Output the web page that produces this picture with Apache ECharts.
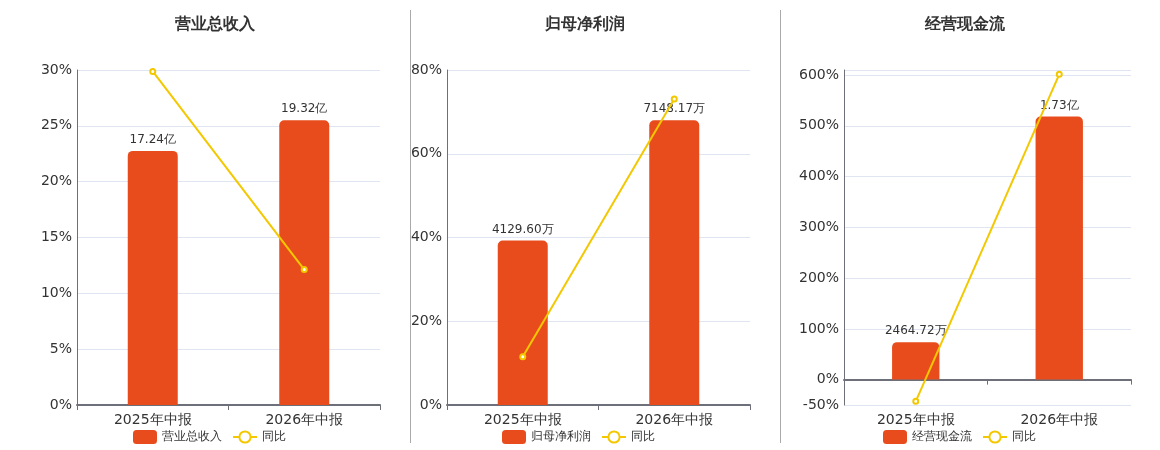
<!DOCTYPE html>
<html>
<head>
<meta charset="utf-8">
<script src="https://cdn.jsdelivr.net/npm/echarts@6/dist/echarts.min.js"></script>
<style>html,body{margin:0;padding:0;background:#fff}#c{width:1160px;height:450px}</style>
</head>
<body>
<div id="c"></div>
<script>
var categories = ['2025年中报', '2026年中报'];
var titles = ['营业总收入', '归母净利润', '经营现金流'];
// bar values in 万元
var revenue = [172400, 193200];
var profit = [4129.60, 7148.17];
var cashflow = [2464.72, 17300];
var revenueLabels = ['17.24亿', '19.32亿'];
var profitLabels = ['4129.60万', '7148.17万'];
var cashflowLabels = ['2464.72万', '1.73亿'];
// YoY %
var revenueYoY = [29.87, 12.13];
var profitYoY = [11.5, 73.1];
var cashflowYoY = [-42.8, 601.5];
// percent axis ranges
var pctAxes = [
  {min: 0, max: 30, interval: 5},
  {min: 0, max: 80, interval: 20},
  {min: -50, max: 610}
];

var barColor = '#E84C1D';
var lineColor = '#F3C800';
var font = 'DejaVu Sans, sans-serif';
var grids = [
  {left: 77, right: 780, top: 70, bottom: 45},
  {left: 447, right: 410, top: 70, bottom: 45},
  {left: 844, right: 29, top: 70, bottom: 45}
];
var titleX = [210, 580, 960];
var legendX = [128, 497, 878];
var barVals = [revenue, profit, cashflow];
var barLabels = [revenueLabels, profitLabels, cashflowLabels];
var yoyVals = [revenueYoY, profitYoY, cashflowYoY];

var option = {
  backgroundColor: '#fff',
  animation: false,
  textStyle: {fontFamily: font},
  title: [], grid: grids, xAxis: [], yAxis: [], legend: [], series: [],
  graphic: [
    {type: 'line', shape: {x1: 410.5, y1: 10, x2: 410.5, y2: 443}, style: {stroke: '#aaaaaa', lineWidth: 1}},
    {type: 'line', shape: {x1: 780.5, y1: 10, x2: 780.5, y2: 443}, style: {stroke: '#aaaaaa', lineWidth: 1}}
  ]
};

for (var i = 0; i < 3; i++) {
  option.title.push({text: titles[i], left: titleX[i], top: 12, textAlign: 'center',
    textStyle: {fontSize: 16, fontWeight: 'bold', color: '#333', fontFamily: font}});
  var pa = pctAxes[i];
  var bmax = Math.max.apply(null, barVals[i]) / 0.85;
  var bmin = pa.min < 0 ? -bmax * (-pa.min) / pa.max : 0;
  var yPct = {
    type: 'value', gridIndex: i, min: pa.min, max: pa.max,
    axisLine: {show: true, lineStyle: {color: '#6E7079', width: 1}},
    axisTick: {show: false},
    axisLabel: {formatter: '{value}%', fontSize: 14, color: '#333', margin: 5, fontFamily: font, showMaxLabel: i === 2 ? false : true},
    splitLine: {show: true, lineStyle: {color: '#E0E6F1'}}
  };
  if (pa.interval) yPct.interval = pa.interval;
  var pctIndex = option.yAxis.length;
  option.yAxis.push(yPct);
  var barIndex = option.yAxis.length;
  option.yAxis.push({type: 'value', gridIndex: i, min: bmin, max: bmax, show: false, splitLine: {show: false}});

  var lineX = option.xAxis.length;
  option.xAxis.push({
    type: 'category', gridIndex: i, data: categories, boundaryGap: true,
    axisLine: {show: true, onZero: true, onZeroAxisIndex: pctIndex, lineStyle: {color: '#6E7079', width: 2}},
    axisTick: {show: true, length: 5, lineStyle: {color: '#6E7079'}},
    axisLabel: {show: false}
  });
  option.xAxis.push({
    type: 'category', gridIndex: i, data: categories, position: 'bottom',
    axisLine: {show: false, onZero: false}, axisTick: {show: false},
    axisLabel: {show: true, fontSize: 14, color: '#333', margin: 8, fontFamily: font}
  });

  var lbl = barLabels[i];
  option.series.push({
    name: titles[i], type: 'bar', xAxisIndex: lineX, yAxisIndex: barIndex,
    data: barVals[i], barWidth: '33%',
    itemStyle: {color: barColor, borderRadius: [5, 5, 0, 0]},
    label: {show: true, position: 'top', distance: 5, fontSize: 12, color: '#333', fontFamily: font,
      formatter: (function (arr) { return function (p) { return arr[p.dataIndex]; }; })(lbl)}
  });
  option.series.push({
    name: '同比', type: 'line', xAxisIndex: lineX, yAxisIndex: pctIndex,
    data: yoyVals[i], symbol: 'emptyCircle', symbolSize: 5, z: 5,
    lineStyle: {color: lineColor, width: 2}, itemStyle: {color: lineColor, borderWidth: 1.5}
  });
  option.legend.push({
    left: legendX[i], top: 425, itemWidth: 24, itemHeight: 14, itemGap: 10,
    data: [titles[i], '同比'],
    textStyle: {fontSize: 12, color: '#333', fontFamily: font}
  });
}

var chart = echarts.init(document.getElementById('c'));
chart.setOption(option);
</script>
</body>
</html>
